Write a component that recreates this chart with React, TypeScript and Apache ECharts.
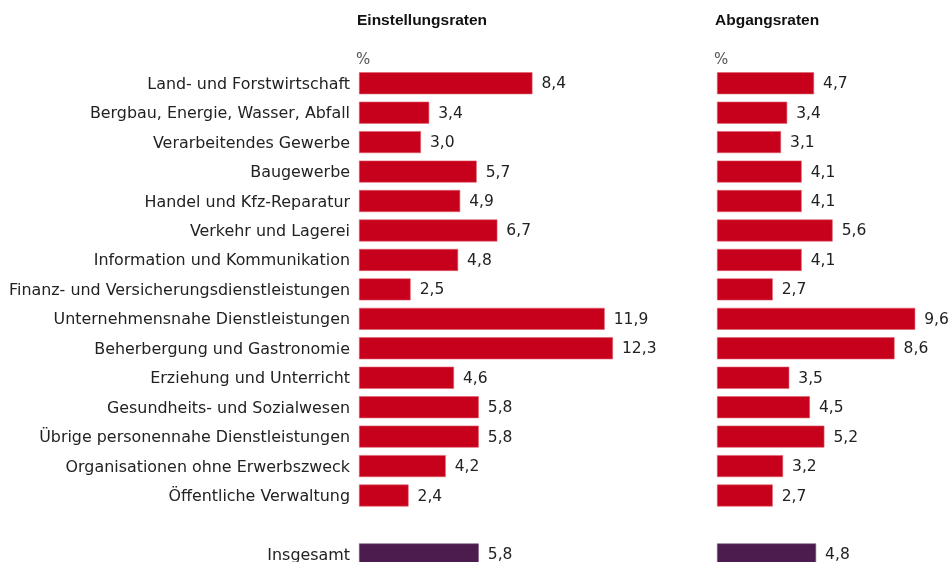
import React, { useEffect, useRef } from "react";
import * as echarts from "echarts";

const categories = [
  "Land- und Forstwirtschaft",
  "Bergbau, Energie, Wasser, Abfall",
  "Verarbeitendes Gewerbe",
  "Baugewerbe",
  "Handel und Kfz-Reparatur",
  "Verkehr und Lagerei",
  "Information und Kommunikation",
  "Finanz- und Versicherungsdienstleistungen",
  "Unternehmensnahe Dienstleistungen",
  "Beherbergung und Gastronomie",
  "Erziehung und Unterricht",
  "Gesundheits- und Sozialwesen",
  "Übrige personennahe Dienstleistungen",
  "Organisationen ohne Erwerbszweck",
  "Öffentliche Verwaltung",
  "",
  "Insgesamt",
];

const einstellungsraten = [8.4, 3.4, 3.0, 5.7, 4.9, 6.7, 4.8, 2.5, 11.9, 12.3, 4.6, 5.8, 5.8, 4.2, 2.4];
const abgangsraten = [4.7, 3.4, 3.1, 4.1, 4.1, 5.6, 4.1, 2.7, 9.6, 8.6, 3.5, 4.5, 5.2, 3.2, 2.7];
const totalEinstellung = 5.8;
const totalAbgang = 4.8;

const panelTitles = ["Einstellungsraten", "Abgangsraten"];
const unitLabel = "%";

const RED = "#c7001b";
const PURPLE = "#4c1c4f";
const FONT = "DejaVu Sans";

function buildData(values: number[], total: number) {
  const d: any[] = values.map((v) => ({ value: v }));
  d.push({ value: null });
  d.push({ value: total, itemStyle: { color: PURPLE, borderColor: "#7a5a7c" } });
  return d;
}

export default function App() {
  const ref = useRef<HTMLDivElement>(null);
  useEffect(() => {
    if (!ref.current) return;
    const chart = echarts.init(ref.current, undefined, { renderer: "svg" });
    const bandH = 29.45;
    const top = 68.5;
    const height = bandH * categories.length;
    const pxPerUnit = 20.65;
    const maxVs = [13, 11];
    const lefts = [359, 717];
    const seriesVals = [
      buildData(einstellungsraten, totalEinstellung),
      buildData(abgangsraten, totalAbgang),
    ];
    chart.setOption({
      animation: false,
      title: panelTitles.map((t, i) => ({
        text: t,
        left: lefts[i] - 2,
        top: 11,
        textStyle: { fontFamily: "Liberation Sans", fontSize: 15.5, fontWeight: "bold", color: "#111" },
        padding: 0,
      })),
      graphic: lefts.map((l) => ({
        type: "text",
        left: l - 3,
        top: 51,
        style: { text: unitLabel, font: `15px ${FONT}`, fill: "#555" },
      })),
      grid: lefts.map((l, i) => ({ left: l, top, width: pxPerUnit * maxVs[i], height })),
      xAxis: lefts.map((_, i) => ({
        type: "value",
        gridIndex: i,
        min: 0,
        max: maxVs[i],
        show: false,
      })),
      yAxis: lefts.map((_, i) => ({
        type: "category",
        gridIndex: i,
        inverse: true,
        data: categories,
        axisLine: { show: false },
        axisTick: { show: false },
        axisLabel: {
          show: i === 0,
          margin: 9,
          fontFamily: FONT,
          fontSize: 15.9,
          color: "#222",
        },
      })),
      series: seriesVals.map((d, i) => ({
        type: "bar",
        xAxisIndex: i,
        yAxisIndex: i,
        data: d,
        barWidth: 22,
        itemStyle: { color: RED, borderColor: "#e0606f", borderWidth: 0.6 },
        label: {
          show: true,
          position: "right",
          distance: 9,
          fontFamily: FONT,
          fontSize: 15.5,
          color: "#222",
          formatter: (p: any) =>
            p.value == null ? "" : Number(p.value).toFixed(1).replace(".", ","),
        },
      })),
    });
    return () => chart.dispose();
  }, []);
  return (
    <div
      ref={ref}
      style={{ position: "fixed", left: 0, top: 0, width: 951, height: 590 }}
    />
  );
}
